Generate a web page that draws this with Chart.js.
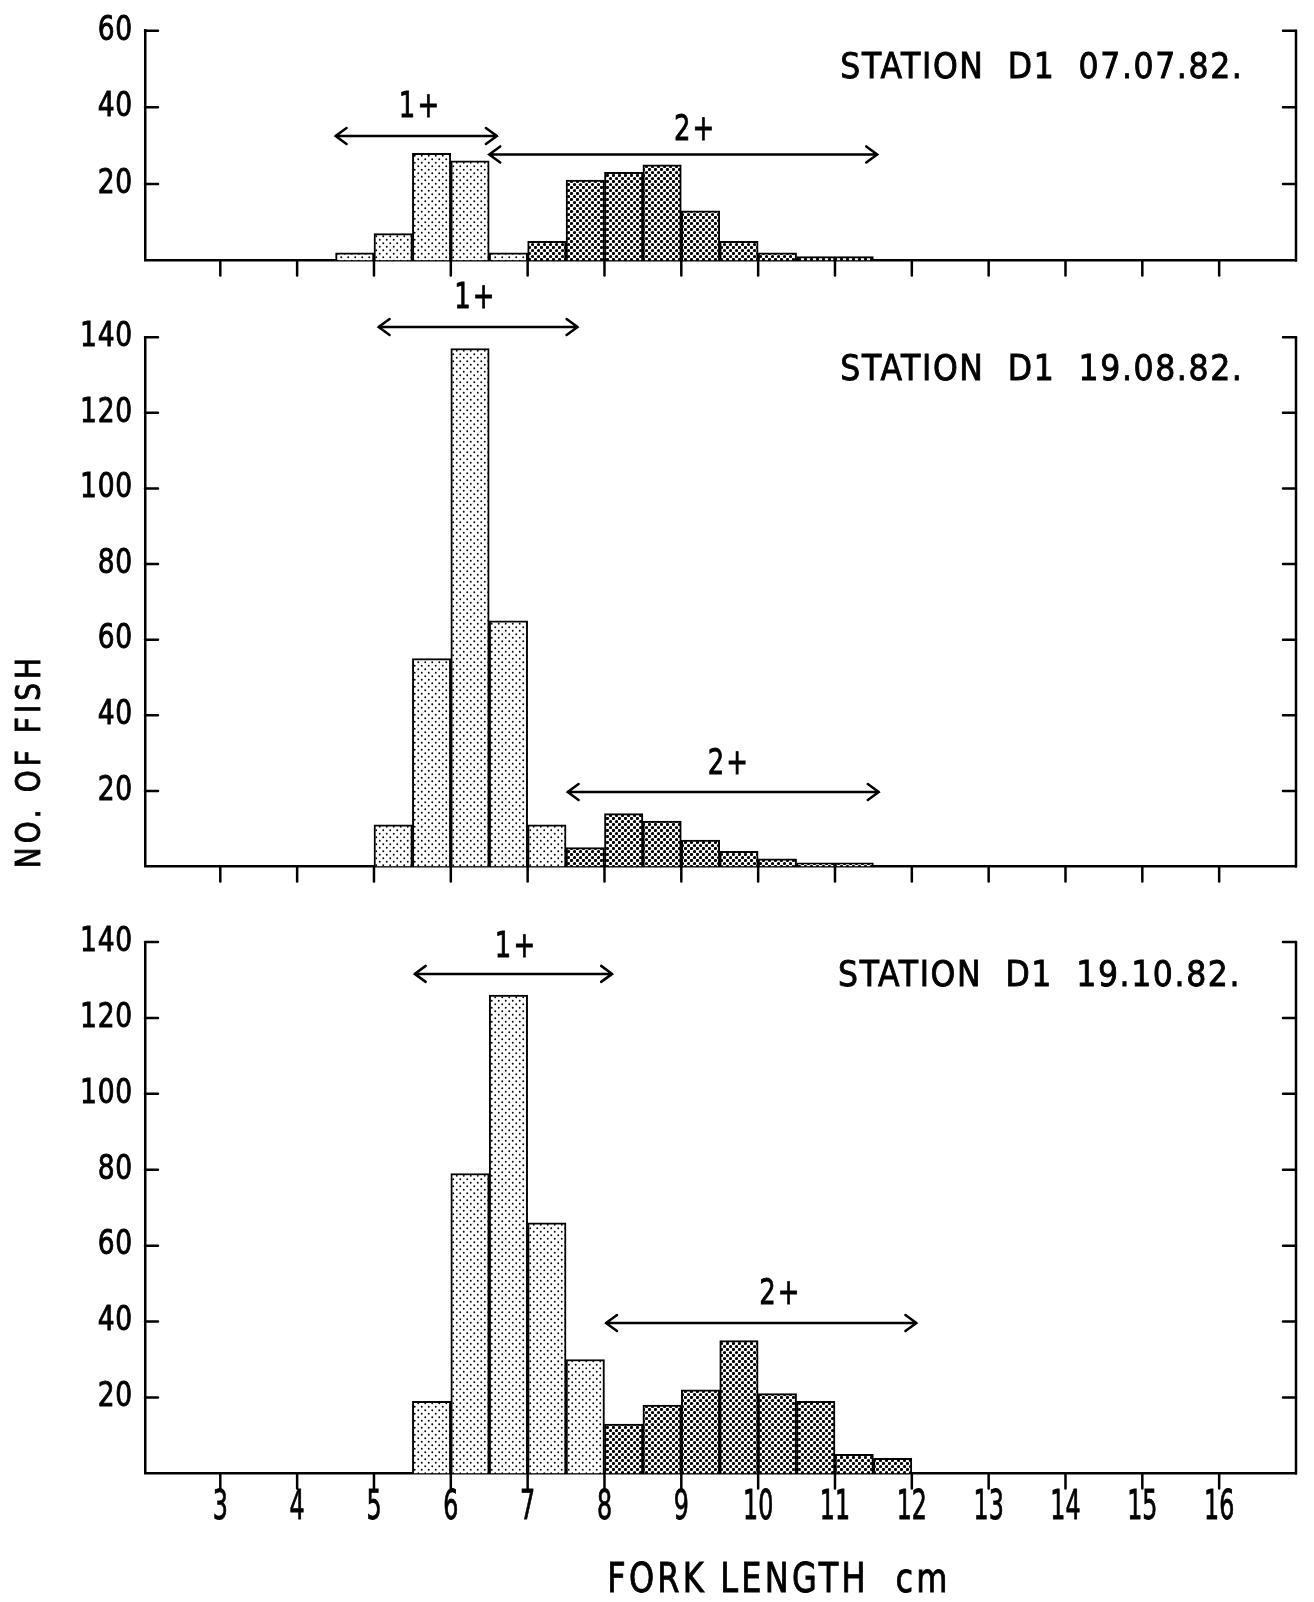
<!DOCTYPE html>
<html>
<head>
<meta charset="utf-8">
<script src="https://cdn.jsdelivr.net/npm/chart.js@4.4.0/dist/chart.umd.min.js"></script>
<style>
  body { margin: 0; background: #fff; }
  #wrap { position: relative; width: 1314px; height: 1602px; background: #fff; }
  canvas { position: absolute; left: 0; }
</style>
</head>
<body>
<div id="wrap">
  <canvas id="c1" width="1314" height="300" style="top:0px"></canvas>
  <canvas id="c2" width="1314" height="625" style="top:265px"></canvas>
  <canvas id="c3" width="1314" height="722" style="top:880px"></canvas>
</div>
<script>
// Fork length histograms, 0.5 cm bins (bin start in cm)
const xTicks = [3, 4, 5, 6, 7, 8, 9, 10, 11, 12, 13, 14, 15, 16];

// 07.07.82
const bins1 = [4.5, 5, 5.5, 6, 6.5, 7, 7.5, 8, 8.5, 9, 9.5, 10, 10.5, 11];
const counts1 = [2, 7, 28, 26, 2, 5, 21, 23, 25, 13, 5, 2, 1, 1];
const split1 = 7;      // first bin of the 2+ group
const yTicks1 = [20, 40, 60];

// 19.08.82
const bins2 = [5, 5.5, 6, 6.5, 7, 7.5, 8, 8.5, 9, 9.5, 10, 10.5, 11];
const counts2 = [11, 55, 137, 65, 11, 5, 14, 12, 7, 4, 2, 1, 1];
const split2 = 7.5;
const yTicks2 = [20, 40, 60, 80, 100, 120, 140];

// 19.10.82
const bins3 = [5.5, 6, 6.5, 7, 7.5, 8, 8.5, 9, 9.5, 10, 10.5, 11, 11.5];
const counts3 = [19, 79, 126, 66, 30, 13, 18, 22, 35, 21, 19, 5, 4];
const split3 = 8;
const yTicks3 = [20, 40, 60, 80, 100, 120, 140];

const titles = ['STATION  D1  07.07.82.', 'STATION  D1  19.08.82.', 'STATION  D1  19.10.82.'];

// age group arrows: range on x (cm), height in fish counts
const groups1 = [
  { label: '1+', from: 4.5, to: 6.6, y: 32.5, lx: 5.6, ly: 40 },
  { label: '2+', from: 6.5, to: 11.55, y: 27.7, lx: 9.18, ly: 33.9 }
];
const groups2 = [
  { label: '1+', from: 5.06, to: 7.65, y: 142.7, lx: 6.32, ly: 150.3 },
  { label: '2+', from: 7.52, to: 11.57, y: 19.7, lx: 9.62, ly: 27 }
];
const groups3 = [
  { label: '1+', from: 5.53, to: 8.1, y: 131.6, lx: 6.85, ly: 138.4 },
  { label: '2+', from: 8.02, to: 12.06, y: 39.6, lx: 10.29, ly: 47.1 }
];

const FONT = '"DejaVu Sans", "Liberation Sans", sans-serif';

function makePattern(r, step) {
  const c = document.createElement('canvas');
  c.width = step; c.height = step;
  const g = c.getContext('2d');
  g.fillStyle = '#fff';
  g.fillRect(0, 0, step, step);
  g.fillStyle = '#000';
  [[step / 4, step / 4], [step * 3 / 4, step * 3 / 4]].forEach(p => {
    g.beginPath();
    g.arc(p[0], p[1], r, 0, Math.PI * 2);
    g.fill();
  });
  return g.createPattern(c, 'repeat');
}
const lightPat = makePattern(0.95, 7);
const darkPat = makePattern(1.6, 6);

// condensed, slightly heavy text like the lettering stencil
function txt(ctx, s, x, y, size, sx, align, spacing) {
  ctx.save();
  ctx.translate(x, y);
  ctx.scale(sx, 1);
  ctx.font = size + 'px ' + FONT;
  ctx.letterSpacing = (spacing || 0) + 'px';
  ctx.fillStyle = '#000';
  ctx.strokeStyle = '#000';
  ctx.lineWidth = 0.9;
  ctx.textAlign = align || 'center';
  ctx.textBaseline = 'middle';
  ctx.fillText(s, 0, 0);
  ctx.strokeText(s, 0, 0);
  ctx.restore();
}

function arrow(ctx, x1, x2, y) {
  ctx.beginPath();
  ctx.moveTo(x1, y); ctx.lineTo(x2, y);
  ctx.moveTo(x1 + 11, y - 8); ctx.lineTo(x1, y); ctx.lineTo(x1 + 11, y + 8);
  ctx.moveTo(x2 - 11, y - 8); ctx.lineTo(x2, y); ctx.lineTo(x2 - 11, y + 8);
  ctx.stroke();
}

// frame ticks, labels and annotations
const decorations = {
  id: 'decorations',
  afterDraw(chart) {
    const o = chart.options.plugins.decorations;
    const ctx = chart.ctx, a = chart.chartArea;
    const xs = chart.scales.x, ys = chart.scales.y;
    ctx.save();
    ctx.strokeStyle = '#000';
    ctx.lineWidth = 2.5;
    ctx.lineCap = 'round';
    // right border
    ctx.beginPath();
    ctx.moveTo(a.right, a.top); ctx.lineTo(a.right, a.bottom);
    ctx.stroke();
    // inward y ticks on both sides
    o.yTicks.forEach(v => {
      const py = ys.getPixelForValue(v);
      ctx.beginPath();
      ctx.moveTo(a.left, py); ctx.lineTo(a.left + 13, py);
      ctx.moveTo(a.right, py); ctx.lineTo(a.right - 13, py);
      ctx.stroke();
      txt(ctx, String(v), a.left - 12, py, 34, 0.78, 'right', 1);
    });
    // downward x ticks
    xTicks.forEach(v => {
      const px = xs.getPixelForValue(v);
      ctx.beginPath();
      ctx.moveTo(px, a.bottom); ctx.lineTo(px, a.bottom + 15);
      ctx.stroke();
      if (o.xLabels) txt(ctx, String(v), px, a.bottom + 35, 41, 0.58, 'center', 0);
    });
    // age groups
    o.groups.forEach(g => {
      const py = ys.getPixelForValue(g.y);
      ctx.lineWidth = 2.5;
      arrow(ctx, xs.getPixelForValue(g.from), xs.getPixelForValue(g.to), py);
      txt(ctx, g.label, xs.getPixelForValue(g.lx), ys.getPixelForValue(g.ly), 36, 0.72, 'center', 3);
    });
    // station title
    txt(ctx, o.title, xs.getPixelForValue(o.titleX), ys.getPixelForValue(o.titleY), 35, 0.9, 'left', 1.8);
    if (o.yTitle) {
      ctx.save();
      ctx.translate(31, o.yTitle);
      ctx.rotate(-Math.PI / 2);
      txt(ctx, 'NO. OF FISH', 0, 0, 34, 0.82, 'center', 5);
      ctx.restore();
    }
    if (o.xTitle) txt(ctx, 'FORK LENGTH  cm', 779, o.xTitle, 40, 0.8, 'center', 4);
    ctx.restore();
  }
};

function makeChart(id, bins, counts, split, yTicks, yMax, groups, title, titleX, titleY, padTop, xh, extra) {
  new Chart(document.getElementById(id), {
    type: 'bar',
    data: {
      datasets: [{
        data: bins.map((b, i) => ({ x: b + 0.25, y: counts[i] })),
        backgroundColor: c => (bins[c.dataIndex] >= split ? darkPat : lightPat),
        borderColor: '#000',
        borderWidth: 2,
        barPercentage: 1,
        categoryPercentage: 1
      }]
    },
    options: {
      responsive: false,
      animation: false,
      layout: { padding: { left: 0, right: 18, top: padTop, bottom: 0 } },
      plugins: {
        legend: { display: false },
        tooltip: { enabled: false },
        decorations: Object.assign({ yTicks, groups, title, titleX, titleY }, extra)
      },
      scales: {
        x: {
          type: 'linear', min: 2.02, max: 17.0, offset: false,
          grid: { display: false, drawTicks: false, offset: false },
          border: { display: true, width: 2.5, color: '#000' },
          ticks: { display: false },
          afterBuildTicks: s => { s.ticks = xTicks.map(v => ({ value: v })); },
          afterFit: s => { s.height = xh; }
        },
        y: {
          min: 0, max: yMax,
          grid: { display: false, drawTicks: false },
          border: { display: true, width: 2.5, color: '#000' },
          ticks: { display: false },
          afterBuildTicks: s => { s.ticks = yTicks.map(v => ({ value: v })); },
          afterFit: s => { s.width = 145; }
        }
      }
    },
    plugins: [decorations]
  });
}

makeChart('c1', bins1, counts1, split1, yTicks1, 60, groups1, titles[0], 11.07, 50.1, 30.7, 39.5, {});
makeChart('c2', bins2, counts2, split2, yTicks2, 140, groups2, titles[1], 11.07, 131, 72.2, 23.5, { yTitle: 496 });
makeChart('c3', bins3, counts3, split3, yTicks3, 140, groups3, titles[2], 11.04, 130.7, 62, 128.6, { xLabels: true, xTitle: 702 });
</script>
</body>
</html>
